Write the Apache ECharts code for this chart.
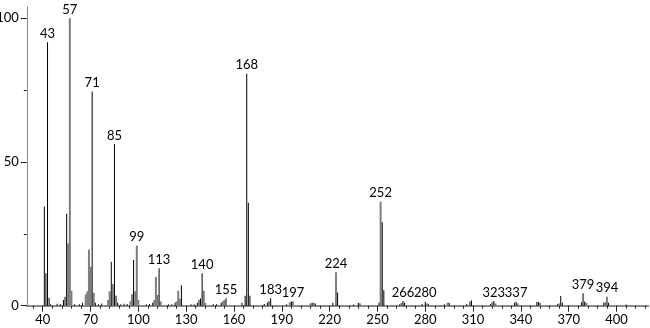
<!DOCTYPE html>
<html>
<head>
<meta charset="utf-8">
<script src="https://cdn.jsdelivr.net/npm/echarts@6/dist/echarts.min.js"></script>
<style>html,body{margin:0;padding:0;background:#fff}#c{width:650px;height:328px}</style>
</head>
<body>
<div id="c"></div>
<script>
// m/z and relative intensity, black peaks
const blackMz  = [41,42,43,44,45,49,51,53,55,60,63,65,71,73,75,77,83,85,87,89,91,93,97,105,107,109,113,119,121,123,127,133,135,137,139,140,147,149,152,155,165,167,168,169,170,179,181,183,193,196,209,211,222,224,225,235,238,251,253,254,264,266,267,278,280,282,292,295,306,308,309,321,323,336,337,350,351,363,365,366,378,379,380,392,394,395,406];
const blackInt = [34.5,11.3,91.7,2.8,0.5,0.7,0.6,2,32,0.5,0.5,1,74.5,1,0.5,0.8,15.3,56.3,1,0.5,0.7,0.6,15.9,0.5,0.6,1,13,0.5,0.5,1,7,0.5,0.5,1,2.5,11.3,0.5,0.5,1,2.6,1,3.5,80.7,35.8,3.5,0.6,1,2.6,0.5,1.5,1,0.8,1,11.6,4.6,0.4,1,1,29,5.4,0.5,1.6,1,0.6,1.4,0.5,0.5,1,0.6,1.5,1.8,0.6,1.6,1,1.4,1.3,1.4,0.5,3.4,1,1.2,4.3,1.5,1,3.1,1,0.4];
// gray peaks
const grayMz   = [54,56,57,58,67,68,69,70,72,81,82,84,86,95,96,98,99,100,110,111,112,114,124,125,126,138,141,142,153,154,182,195,197,208,210,239,252,265,281,294,322,324,338,352,364,381,393];
const grayInt  = [3.1,21.7,100,5.2,4,5,19.5,13.5,4.5,2,5,7.5,3.5,1.5,4,5,20.9,2,2,10,3.7,1.5,1.5,5.2,2.5,2,5.2,1,1.5,2,1.6,1.2,1.5,0.8,1,0.8,36.2,1,0.8,1,1.2,0.8,0.8,1,0.8,1,1.2];
// labelled peaks
const labelMz  = [43,57,71,85,99,113,140,155,168,183,197,224,252,266,280,323,337,379,394];
// axis ticks
const xMajorTicks = [40,70,100,130,160,190,220,250,280,310,340,370,400];
const xMinorStep = 6;
const yTicks = [0,50,100];

const xMinorTicks = [xMajorTicks[0] - xMinorStep];
for (let i = 0; i < xMajorTicks.length; i++) {
  for (let k = 1; k < 5; k++) {
    const v = xMajorTicks[i] + k * xMinorStep;
    if (v < 420) xMinorTicks.push(v);
  }
}

const FONT = 'Lato';
function mk(mzs, ints) {
  return mzs.map(function (m, i) {
    const item = {value: [m, ints[i]]};
    if (labelMz.indexOf(m) >= 0) {
      item.label = {show: true, position: 'top', distance: 2, formatter: String(m),
        color: '#000', fontSize: 13, fontFamily: FONT};
    }
    return item;
  });
}

const chart = echarts.init(document.getElementById('c'), null, {renderer: 'canvas'});
chart.setOption({
  animation: false,
  grid: {left: 26.8, right: 1.6, top: 6.8, bottom: 22.3, containLabel: false, outerBoundsMode: 'none'},
  xAxis: [{
    type: 'value', min: 30, max: 420, position: 'bottom',
    axisLine: {show: true, lineStyle: {color: '#8a8a8a', width: 2}},
    axisTick: {show: true, length: 6, customValues: xMajorTicks, lineStyle: {color: '#222', width: 1}},
    axisLabel: {show: true, customValues: xMajorTicks, margin: 8, color: '#000', fontSize: 13, fontFamily: FONT},
    splitLine: {show: false}
  }, {
    type: 'value', min: 30, max: 420, position: 'bottom', offset: 0,
    axisLine: {show: false},
    axisTick: {show: true, length: 3, customValues: xMinorTicks, lineStyle: {color: '#222', width: 1}},
    axisLabel: {show: false},
    splitLine: {show: false}
  }],
  yAxis: {
    type: 'value', min: 0, max: 104, interval: 50,
    axisLine: {show: true, lineStyle: {color: '#8a8a8a', width: 1}},
    axisTick: {show: true, length: 6, customValues: yTicks, lineStyle: {color: '#222'}},
    minorTick: {show: true, splitNumber: 2, length: 3, lineStyle: {color: '#222'}},
    axisLabel: {margin: 8, customValues: yTicks, color: '#000', fontSize: 13, fontFamily: FONT},
    splitLine: {show: false}, minorSplitLine: {show: false}
  },
  series: [{
    type: 'bar', xAxisIndex: 1, barWidth: 2, data: mk(grayMz, grayInt),
    itemStyle: {color: '#7d7d7d'}, silent: true
  }, {
    type: 'bar', xAxisIndex: 0, barWidth: 1, data: mk(blackMz, blackInt),
    itemStyle: {color: '#000'}, silent: true
  }]
});
</script>
</body>
</html>
